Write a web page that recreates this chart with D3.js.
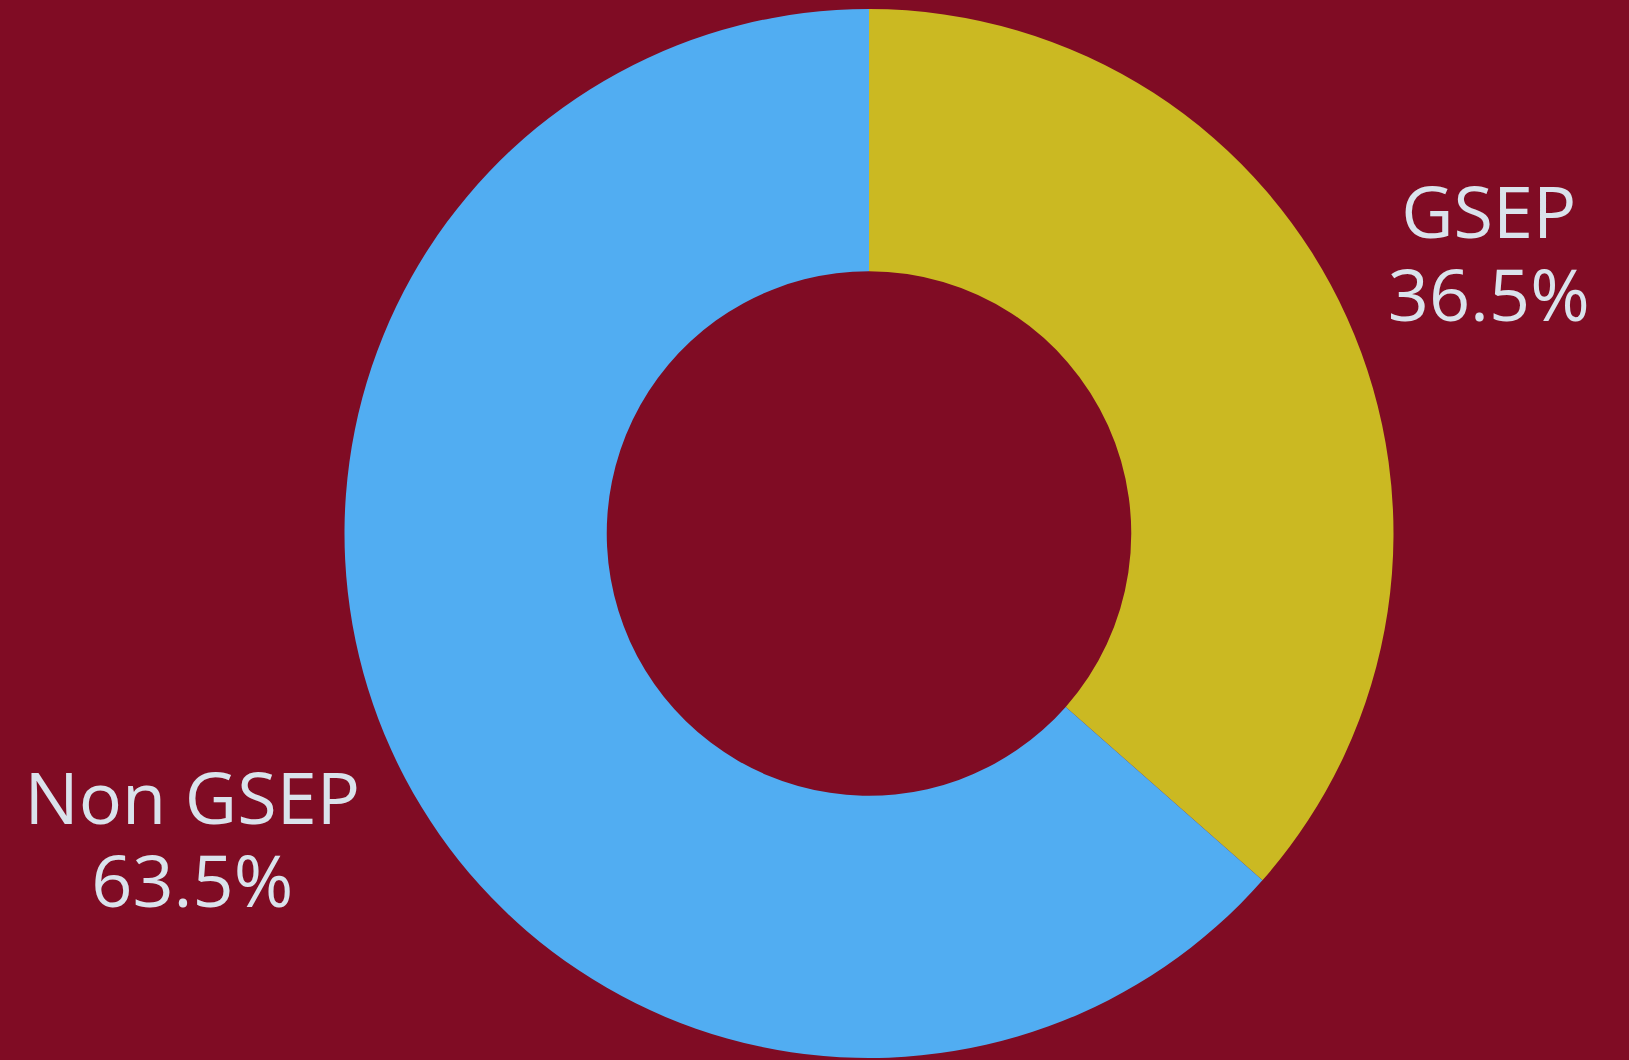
<!DOCTYPE html>
<html lang="en">
<head>
    <meta charset="UTF-8">
    <title>GSEP share</title>
    <script src="https://d3js.org/d3.v7.min.js"></script>
    <style>
        html, body { margin: 0; padding: 0; background: #800c24; }
        svg { display: block; }
        text {
            font-family: 'Open Sans', sans-serif;
            font-size: 72px;
            fill: #dae3ec;
        }
    </style>
</head>
<body>
<script>
    const width  = 1629;
    const height = 1060;

    const labels = ["GSEP", "Non GSEP"];
    const shares = [36.5, 63.5];
    const colors = ["#cbb922", "#51adf2"];

    const data = labels.map((l, i) => ({label: l, value: shares[i]}));

    const cx = 869, cy = 533.5;
    const outerR = 524.5;

    const svg = d3.select("body").append("svg")
        .attr("width", width).attr("height", height);

    svg.append("rect").attr("width", width).attr("height", height).attr("fill", "#800c24");

    const pie = d3.pie().value(d => d.value).sort(null);
    const arc = d3.arc().innerRadius(outerR * 0.5).outerRadius(outerR);
    const labelArc = d3.arc().innerRadius(680).outerRadius(680);

    const g = svg.append("g").attr("transform", `translate(${cx},${cy})`);

    const slices = pie(data);

    g.selectAll("path.slice")
        .data(slices).join("path")
        .attr("class", "slice")
        .attr("d", arc)
        .attr("fill", (d, i) => colors[i]);

    // plotly-style outside labels, nudged to clear the ring
    const nudge = d => {
        const c = labelArc.centroid(d);
        const left = c[0] < 0;
        return [c[0] + (left ? -57 : 0), c[1] + (left ? 11 : -16)];
    };

    const lab = g.selectAll("text.lab")
        .data(slices).join("text")
        .attr("class", "lab")
        .attr("text-anchor", "middle")
        .attr("transform", d => `translate(${nudge(d)})`);

    lab.append("tspan").attr("x", 0).attr("y", 0).text(d => d.data.label);
    lab.append("tspan").attr("x", 0).attr("y", 83).text(d => d.data.value.toFixed(1) + "%");
</script>
</body>
</html>
